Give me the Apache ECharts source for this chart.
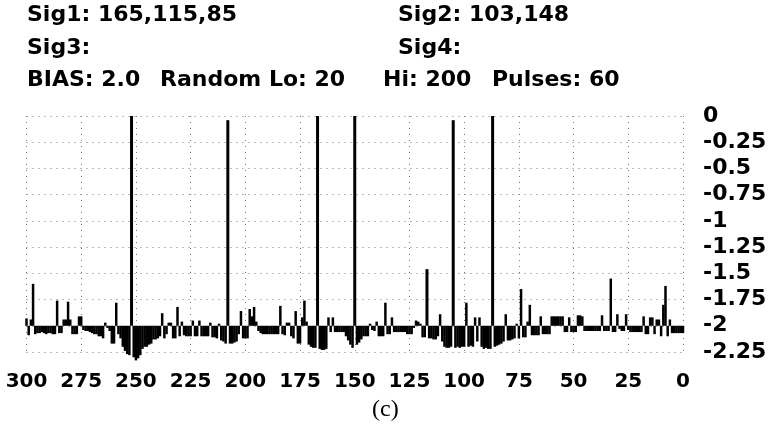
<!DOCTYPE html>
<html><head><meta charset="utf-8">
<script src="https://cdn.jsdelivr.net/npm/echarts@6/dist/echarts.min.js"></script>
<style>html,body{margin:0;padding:0;background:#fff}#c{width:772px;height:437px}</style>
</head><body><div id="c"></div>
<script>
// Header texts
const headerTexts = ["Sig1: 165,115,85", "Sig2: 103,148", "Sig3:", "Sig4:", "BIAS: 2.0", "Random Lo: 20", "Hi: 200", "Pulses: 60"];
const caption = "(c)";
// x positions run from 300 down to 0 (one sample per unit)
const xStart = 300;
// signal values, listed for x = 300, 299, ..., 0
const signal = [
 -1.93,-2.09,-1.94,-1.60,-2.08,-2.07,-2.07,-2.06,-2.07,-2.08,
 -2.07,-2.07,-2.08,-2.08,-1.76,-2.07,-2.07,-1.94,-1.94,-1.77,
 -1.94,-2.08,-2.08,-2.08,-1.91,-1.91,-2.04,-2.05,-2.05,-2.06,
 -2.07,-2.08,-2.08,-2.10,-2.10,-2.12,-1.97,-2.02,-2.05,-2.17,
 -2.17,-1.78,-2.08,-2.12,-2.20,-2.24,-2.27,-2.28,0,-2.30,
 -2.33,-2.31,-2.28,-2.22,-2.20,-2.20,-2.18,-2.17,-2.13,-2.13,
 -2.12,-2.10,-1.88,-2.12,-2.08,-1.97,-1.97,-2.12,-2.12,-1.82,
 -2.10,-1.96,-2.09,-2.10,-2.10,-2.10,-1.95,-2.10,-2.10,-1.95,
 -2.10,-2.10,-2.10,-2.10,-1.97,-2.11,-2.11,-2.12,-1.98,-2.14,
 -2.15,-2.17,-0.04,-2.17,-2.17,-2.16,-2.15,-2.08,-1.86,-2.12,
 -2.12,-2.12,-1.84,-1.91,-1.82,-1.96,-2.05,-2.07,-2.08,-2.08,
 -2.08,-2.08,-2.08,-2.08,-2.08,-2.08,-1.81,-2.08,-2.09,-1.97,
 -1.97,-2.10,-2.12,-1.86,-2.17,-2.17,-1.92,-1.76,-1.96,-2.18,
 -2.20,-2.21,-2.21,0,-2.22,-2.23,-2.23,-2.22,-1.92,-2.06,
 -1.92,-2.06,-2.06,-2.06,-2.06,-2.06,-2.10,-2.14,-2.18,-2.21,
 0,-2.18,-2.16,-2.13,-2.10,-2.10,-2.10,-1.98,-2.04,-2.05,
 -1.96,-2.10,-2.10,-2.10,-1.78,-2.08,-2.08,-1.92,-2.06,-2.06,
 -2.06,-2.06,-2.06,-2.06,-2.08,-2.08,-2.08,-2.02,-1.95,-1.96,
 -1.98,-2.11,-2.11,-1.46,-2.12,-2.12,-2.13,-2.13,-2.10,-1.89,
 -2.15,-2.20,-2.21,-2.21,-2.20,-0.04,-2.21,-2.20,-2.21,-2.20,
 -2.20,-1.78,-2.20,-2.19,-2.20,-1.92,-2.15,-1.92,-2.20,-2.22,
 -2.21,-2.22,-2.22,0,-2.20,-2.19,-2.18,-2.17,-2.15,-1.89,
 -2.14,-2.14,-2.13,-2.12,-1.98,-2.12,-1.65,-2.11,-2.11,-1.96,
 -1.80,-2.09,-2.09,-2.09,-2.09,-1.91,-2.08,-2.08,-2.08,-2.08,
 -1.91,-1.91,-1.91,-1.91,-1.91,-1.91,-2.06,-2.06,-1.92,-2.06,
 -2.06,-2.06,-1.90,-1.90,-1.91,-2.05,-2.05,-2.05,-2.05,-2.05,
 -2.05,-2.05,-2.05,-1.90,-2.05,-2.05,-2.05,-1.55,-2.06,-2.06,
 -1.89,-2.03,-2.05,-2.05,-1.89,-2.04,-2.06,-2.06,-2.06,-2.06,
 -2.06,-2.06,-1.91,-2.08,-2.08,-1.92,-1.92,-2.08,-1.94,-1.94,
 -2.10,-1.80,-1.62,-2.10,-1.94,-2.07,-2.07,-2.07,-2.07,-2.07,
 -2.07
];
const baseline = -2;

const positions = signal.map((_, i) => xStart - i);
const seriesData = positions.map((x, i) => [x, signal[i]]);

const FONT = "'DejaVu Sans', sans-serif";
const hdr = (text, left, top) => ({
  text, left, top, padding: 0,
  textStyle: { fontFamily: FONT, fontWeight: 'bold', fontSize: 22, color: '#000' }
});

const chart = echarts.init(document.getElementById('c'), null, { renderer: 'canvas' });
chart.setOption({
  animation: false,
  backgroundColor: '#fff',
  title: [
    hdr(headerTexts[0], 27, 4),
    hdr(headerTexts[1], 398, 4),
    hdr(headerTexts[2], 27, 37),
    hdr(headerTexts[3], 398, 37),
    hdr(headerTexts[4], 27, 69),
    hdr(headerTexts[5], 160, 69),
    hdr(headerTexts[6], 383, 69),
    hdr(headerTexts[7], 492, 69),
    { text: caption, left: 372, top: 398, padding: 0,
      textStyle: { fontFamily: "'Liberation Serif', serif", fontWeight: 'normal', fontSize: 24, color: '#000' } }
  ],
  grid: { left: 26.5, right: 89, top: 116, bottom: 85, containLabel: false },
  xAxis: {
    type: 'value', min: 0, max: 300, interval: 25, inverse: true,
    axisLine: { show: false }, axisTick: { show: false },
    axisLabel: { margin: 20, color: '#000', fontFamily: FONT, fontWeight: 'bold', fontSize: 20 },
    splitLine: { show: true, lineStyle: { color: '#777', type: [1, 5], width: 1 } }
  },
  yAxis: {
    type: 'value', position: 'right', min: -2.25, max: 0, interval: 0.25,
    axisLine: { show: false }, axisTick: { show: false },
    axisLabel: { margin: 20, color: '#000', fontFamily: FONT, fontWeight: 'bold', fontSize: 22,
      formatter: v => String(+v.toFixed(2)) },
    splitLine: { show: true, lineStyle: { color: '#777', type: [1, 5], width: 1 } }
  },
  series: [{
    type: 'custom',
    data: seriesData,
    encode: { x: 0, y: 1 },
    clip: false,
    renderItem: (params, api) => {
      const x = api.value(0), v = api.value(1);
      const p0 = api.coord([x, baseline]);
      const p1 = api.coord([x, v]);
      const w = Math.abs(v - baseline) > 0.5 ? 3 : 2.5;
      return {
        type: 'rect',
        shape: { x: p0[0] - w / 2, y: Math.min(p0[1], p1[1]), width: w, height: Math.abs(p1[1] - p0[1]) },
        style: { fill: '#000' }
      };
    }
  }]
});
</script></body></html>
